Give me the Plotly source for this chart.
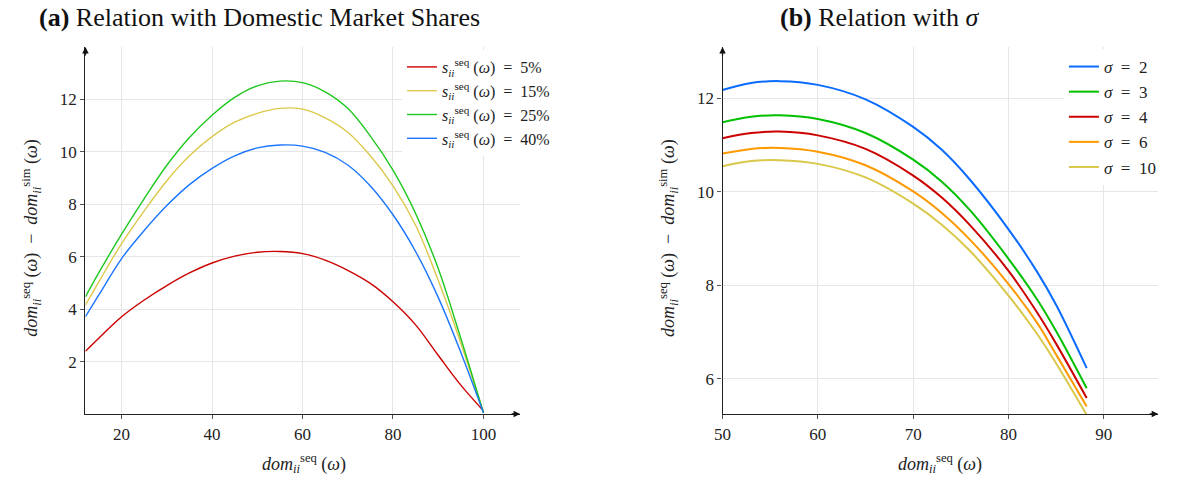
import plotly.graph_objects as go

# ---------------- Data: panel (a) ----------------
dom_a = [12, 15, 20, 25, 30, 35, 40, 45, 50, 55, 60, 65, 70, 75, 80, 85, 90, 95, 100]
share_labels = ["5%", "15%", "25%", "40%"]
diff_s05 = [2.39, 2.90, 3.71, 4.35, 4.90, 5.38, 5.76, 6.02, 6.17, 6.20, 6.12, 5.87, 5.48, 4.98, 4.28, 3.40, 2.24, 1.10, 0.12]
diff_s15 = [4.15, 5.05, 6.50, 7.75, 8.90, 9.85, 10.58, 11.13, 11.47, 11.66, 11.63, 11.30, 10.75, 9.85, 8.70, 7.20, 5.10, 2.70, 0.05]
diff_s25 = [4.47, 5.40, 6.86, 8.22, 9.49, 10.55, 11.40, 12.08, 12.52, 12.70, 12.64, 12.29, 11.66, 10.60, 9.30, 7.65, 5.55, 2.88, 0.05]
diff_s40 = [3.71, 4.55, 5.93, 7.00, 7.95, 8.75, 9.37, 9.85, 10.15, 10.26, 10.22, 9.98, 9.50, 8.70, 7.60, 6.20, 4.45, 2.35, 0.05]

# ---------------- Data: panel (b) ----------------
dom_b = [50, 53, 56, 60, 65, 70, 73, 76, 80, 83, 85, 88.2]
sigma_labels = ["2", "3", "4", "6", "10"]
diff_sig2 = [12.18, 12.33, 12.37, 12.29, 11.98, 11.39, 10.90, 10.25, 9.20, 8.29, 7.58, 6.23]
diff_sig3 = [11.49, 11.61, 11.64, 11.56, 11.26, 10.69, 10.22, 9.60, 8.57, 7.70, 7.02, 5.80]
diff_sig4 = [11.15, 11.26, 11.29, 11.21, 10.92, 10.35, 9.88, 9.28, 8.31, 7.42, 6.75, 5.59]
diff_sig6 = [10.82, 10.92, 10.94, 10.86, 10.57, 10.01, 9.55, 8.97, 8.03, 7.20, 6.52, 5.41]
diff_sig10 = [10.55, 10.66, 10.68, 10.60, 10.31, 9.75, 9.30, 8.73, 7.78, 6.96, 6.33, 5.23]

W, H = 1184, 484
FONT = "Liberation Serif"

def px(x):
    return x / W

def py(y):
    return 1 - y / H

fig = go.Figure()

colors_a = ["#cc0000", "#dcc84a", "#1ec81e", "#1a75ff"]
series_a = [diff_s05, diff_s15, diff_s25, diff_s40]
for lab, ys, c in zip(share_labels, series_a, colors_a):
    fig.add_trace(go.Scatter(
        x=dom_a, y=ys, mode="lines", xaxis="x", yaxis="y",
        line=dict(color=c, width=1.4, shape="spline", smoothing=1.0),
        name="<i>s</i><sub><i>ii</i></sub><sup>seq</sup> (<i>ω</i>)\u2002=\u2002" + lab,
        legend="legend",
    ))

colors_b = ["#0a6cff", "#00c000", "#cc0000", "#ff9900", "#d9c84a"]
series_b = [diff_sig2, diff_sig3, diff_sig4, diff_sig6, diff_sig10]
for lab, ys, c in zip(sigma_labels, series_b, colors_b):
    fig.add_trace(go.Scatter(
        x=dom_b, y=ys, mode="lines", xaxis="x2", yaxis="y2",
        line=dict(color=c, width=2, shape="spline", smoothing=1.0),
        name="<i>σ</i>\u2002=\u2002" + lab,
        legend="legend2",
    ))

axis_common = dict(
    showgrid=True, gridcolor="#e6e6e6", gridwidth=1,
    showline=True, linecolor="#222222", linewidth=1.3,
    ticks="outside", ticklen=4, tickcolor="#555555",
    tickfont=dict(family=FONT, size=17, color="#222222"),
    zeroline=False, mirror=False,
)

ydom = [py(414), py(47)]
fig.update_layout(
    width=W, height=H,
    margin=dict(l=0, r=0, t=0, b=0),
    paper_bgcolor="white", plot_bgcolor="white",
    font=dict(family=FONT, size=16, color="#222222"),
    xaxis=dict(domain=[px(77), px(515)], range=[12, 108.1],
               tickvals=[20, 40, 60, 80, 100], anchor="y", **axis_common),
    yaxis=dict(domain=ydom, range=[0, 14], tickvals=[2, 4, 6, 8, 10, 12],
               anchor="x", **axis_common),
    xaxis2=dict(domain=[px(719), px(1158)], range=[50, 95.7],
                tickvals=[50, 60, 70, 80, 90], anchor="y2", **axis_common),
    yaxis2=dict(domain=ydom, range=[5.25, 13.1], tickvals=[6, 8, 10, 12],
                anchor="x2", **axis_common),
    legend=dict(x=px(396), y=py(50), xanchor="left", yanchor="top",
                bgcolor="white", borderwidth=0, tracegroupgap=0,
                font=dict(family=FONT, size=16, color="#222222"),
                itemwidth=30),
    legend2=dict(x=px(1063), y=py(49), xanchor="left", yanchor="top",
                 bgcolor="white", borderwidth=0, tracegroupgap=0,
                 font=dict(family=FONT, size=17, color="#222222"),
                 itemwidth=30),
)

ann = []
ann.append(dict(text="<b>(a)</b> Relation with Domestic Market Shares",
                x=px(252), y=py(18), xref="paper", yref="paper",
                xanchor="center", yanchor="middle",
                showarrow=False, font=dict(family=FONT, size=26, color="#111111")))
ann.append(dict(text="<b>(b)</b> Relation with <i>σ</i>",
                x=px(878), y=py(18), xref="paper", yref="paper",
                xanchor="center", yanchor="middle",
                showarrow=False, font=dict(family=FONT, size=26, color="#111111")))
xlab = "<i>dom</i><sub><i>ii</i></sub><sup>seq</sup> (<i>ω</i>)"
ylab = ("<i>dom</i><sub><i>ii</i></sub><sup>seq</sup> (<i>ω</i>)\u2002−\u2002"
        "<i>dom</i><sub><i>ii</i></sub><sup>sim</sup> (<i>ω</i>)")
for xc in (297, 938):
    ann.append(dict(text=xlab, x=px(xc), y=py(463), xref="paper", yref="paper",
                    xanchor="center", yanchor="middle",
                    showarrow=False, font=dict(family=FONT, size=18)))
for xc in (22, 664):
    ann.append(dict(text=ylab, x=px(xc), y=py(238), xref="paper", yref="paper",
                    xanchor="center", yanchor="middle",
                    textangle=-90, showarrow=False, font=dict(family=FONT, size=18)))

# axis arrowheads
for xr, yr in [("x domain", "y domain"), ("x2 domain", "y2 domain")]:
    ann.append(dict(x=1, y=0, xref=xr, yref=yr, ax=-10, ay=0, text="",
                    showarrow=True, arrowhead=2, arrowsize=1, arrowwidth=1.3,
                    arrowcolor="#111111", standoff=0))
    ann.append(dict(x=0, y=1, xref=xr, yref=yr, ax=0, ay=10, text="",
                    showarrow=True, arrowhead=2, arrowsize=1, arrowwidth=1.3,
                    arrowcolor="#111111", standoff=0))
fig.update_layout(annotations=ann)

fig.write_html("out.html")
